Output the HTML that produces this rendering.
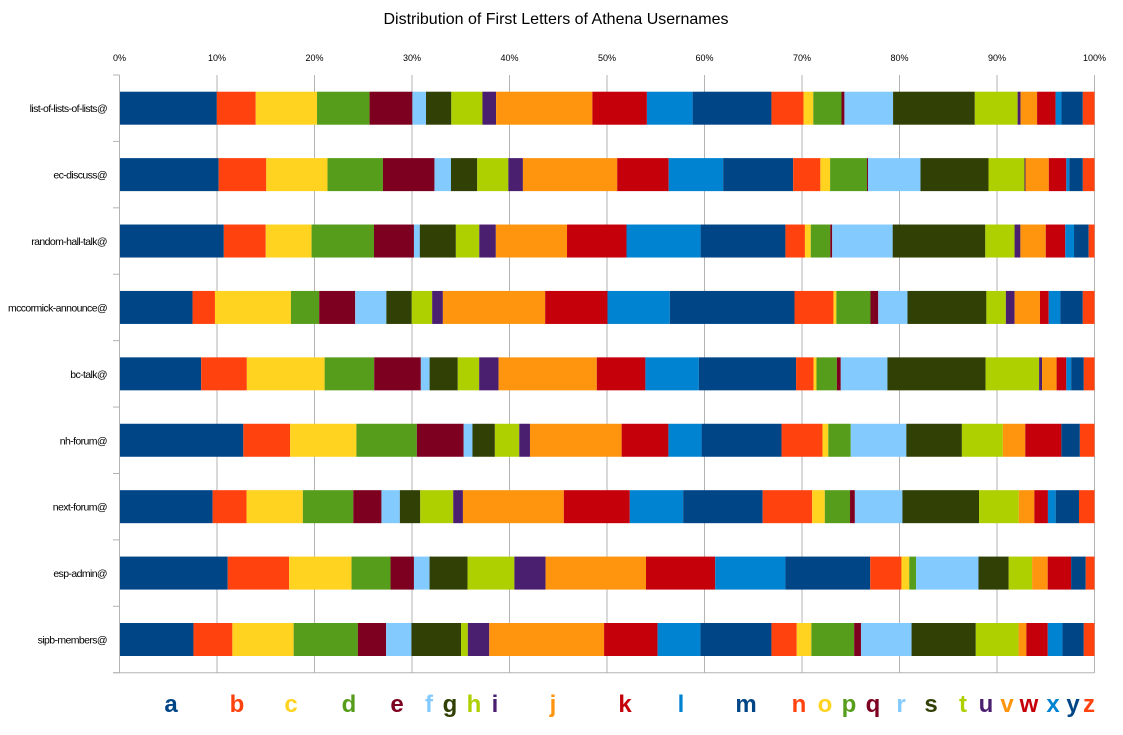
<!DOCTYPE html>
<html><head><meta charset="utf-8"><style>
body{margin:0;background:#fff;width:1123px;height:730px;overflow:hidden;font-family:"Liberation Sans",sans-serif}
</style></head><body>
<svg id="chart" width="1123" height="730" xmlns="http://www.w3.org/2000/svg">
<text x="556" y="24" text-anchor="middle" font-size="16" fill="#000" font-family="Liberation Sans, sans-serif">Distribution of First Letters of Athena Usernames</text>
<g id="grid"></g><g id="bars"></g><g id="axes"></g><g id="legend"></g>
</svg>
<script>
const letters = ['a','b','c','d','e','f','g','h','i','j','k','l','m','n','o','p','q','r','s','t','u','v','w','x','y','z'];
const categories = ['list-of-lists-of-lists@','ec-discuss@','random-hall-talk@','mccormick-announce@','bc-talk@','nh-forum@','next-forum@','esp-admin@','sipb-members@'];
const rowListOfLists = [10.0,4.0,6.3,5.4,4.4,1.4,2.6,3.2,1.4,9.9,5.6,4.7,8.1,3.3,1.0,2.9,0.3,5.0,8.4,4.4,0.3,1.7,1.9,0.6,2.2,1.2];
const rowEcDiscuss = [10.2,4.9,6.3,5.7,5.3,1.7,2.7,3.2,1.5,9.7,5.3,5.6,7.2,2.8,1.0,3.8,0.1,5.4,7.0,3.7,0.1,2.4,1.8,0.3,1.4,1.2];
const rowRandomHall = [10.7,4.3,4.7,6.4,4.1,0.6,3.7,2.4,1.7,7.3,6.1,7.6,8.7,2.0,0.6,2.0,0.2,6.2,9.5,3.0,0.6,2.6,2.0,0.9,1.5,0.6];
const rowMccormick = [7.5,2.3,7.8,2.9,3.7,3.2,2.6,2.1,1.1,10.5,6.4,6.4,12.8,4.0,0.3,3.5,0.8,3.0,8.1,2.0,0.9,2.6,0.9,1.2,2.3,1.2];
const rowBcTalk = [8.4,4.7,8.0,5.1,4.8,0.9,2.9,2.2,2.0,10.1,5.0,5.5,10.0,1.8,0.3,2.1,0.4,4.8,10.1,5.5,0.3,1.5,1.0,0.5,1.3,1.1];
const rowNhForum = [12.7,4.8,6.8,6.2,4.8,0.9,2.3,2.5,1.1,9.4,4.8,3.4,8.2,4.2,0.6,2.3,0,5.7,5.7,4.2,0,2.3,3.7,0,1.9,1.5];
const rowNextForum = [9.6,3.5,5.8,5.2,2.9,1.9,2.1,3.4,1.0,10.4,6.8,5.5,8.2,5.1,1.3,2.6,0.5,4.9,7.9,4.1,0,1.6,1.4,0.8,2.4,1.6];
const rowEspAdmin = [11.1,6.3,6.4,4.0,2.4,1.6,3.9,4.8,3.2,10.3,7.1,7.2,8.7,3.2,0.8,0.7,0,6.4,3.1,2.4,0,1.6,2.4,0,1.5,0.9];
const rowSipb = [7.6,4.0,6.3,6.6,2.9,2.6,5.1,0.7,2.2,11.8,5.5,4.4,7.3,2.6,1.5,4.4,0.7,5.2,6.6,4.4,0,0.8,2.2,1.5,2.2,1.1];
const seriesRows = [rowListOfLists,rowEcDiscuss,rowRandomHall,rowMccormick,rowBcTalk,rowNhForum,rowNextForum,rowEspAdmin,rowSipb];
const tickLabels = ['0%','10%','20%','30%','40%','50%','60%','70%','80%','90%','100%'];
const palette = ['#004586','#ff420e','#ffd320','#579d1c','#7e0021','#83caff','#314004','#aecf00','#4b1f6f','#ff950e','#c5000b','#0084d1'];
const legendX = [171,237,291,349,397,429,450,474,495,553,625,681,746,799,825,849,873,901,931,963,986,1007,1029,1053,1073,1089];

const NS='http://www.w3.org/2000/svg';
const X0=119.5, X1=1094.5, Y0=75, Y1=672.7;
const band=(Y1-Y0)/categories.length, barH=33;
const xs=p=>X0+(X1-X0)*p/100;
const ys=i=>Y0+band*i;
function mk(tag,attrs,parent){const e=document.createElementNS(NS,tag);for(const k in attrs)e.setAttribute(k,attrs[k]);parent.appendChild(e);return e;}
const grid=document.getElementById('grid'),bars=document.getElementById('bars'),axes=document.getElementById('axes'),legend=document.getElementById('legend');
tickLabels.forEach((t,i)=>{
  const x=xs(i*10);
  const l=mk('line',{x1:x,y1:Y0,x2:x,y2:Y1,stroke:'#b3b3b3','stroke-width':1},grid);
  
  
  const tx=mk('text',{x:x,y:61,'text-anchor':'middle','font-size':9,fill:'#000'},axes);
  tx.textContent=t;
  
  
});
categories.forEach((c,i)=>{
  const vals=seriesRows[i];
  const tot=vals.reduce((a,b)=>a+b,0);
  let cum=0;
  const y=ys(i)+(band-barH)/2;
  vals.forEach((v,j)=>{
    if(v<=0)return;
    const xa=xs(cum/tot*100), xb=xs((cum+v)/tot*100);
    cum+=v;
    const r=mk('rect',{x:xa,y:y,width:Math.max(0,xb-xa),height:barH,fill:palette[j%12]},bars);
    
    
  });
  const lb=mk('text',{x:107,y:ys(i)+band/2+4,'text-anchor':'end','font-size':10.5,'letter-spacing':'-0.6',fill:'#000'},axes);
  lb.textContent=c;
  
  
});
for(let i=0;i<=categories.length;i++){
  const t=mk('line',{x1:113,y1:ys(i),x2:X0,y2:ys(i),stroke:'#b3b3b3','stroke-width':1},axes);
  
  
}
const ax=mk('line',{x1:X0,y1:Y0,x2:X0,y2:Y1+0.5,stroke:'#b3b3b3','stroke-width':1},axes);


const bx=mk('line',{x1:X0-6,y1:Y1,x2:X1,y2:Y1,stroke:'#b3b3b3','stroke-width':1},axes);


letters.forEach((l,j)=>{
  const t=mk('text',{x:legendX[j],y:712,'text-anchor':'middle','font-size':24,'font-weight':'bold',fill:palette[j%12]},legend);
  t.textContent=l;
  
  
});
</script>
</body></html>
